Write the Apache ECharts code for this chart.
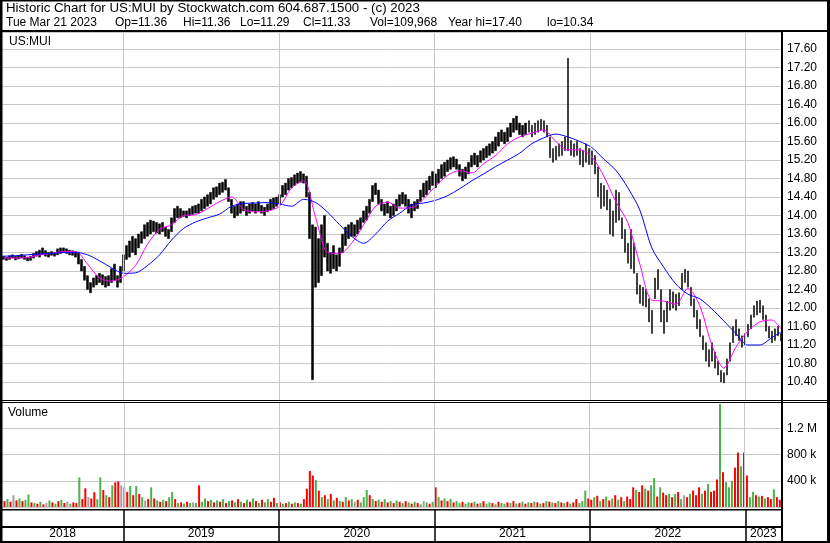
<!DOCTYPE html>
<html>
<head>
<meta charset="utf-8">
<title>Historic Chart for US:MUI</title>
<script src="https://cdn.jsdelivr.net/npm/echarts@6.0.0/dist/echarts.min.js"></script>
<style>
  html, body { margin: 0; padding: 0; background: #fff; }
  #main { width: 830px; height: 543px; }
</style>
</head>
<body>
<div id="main"></div>
<script>
// one bar per week (about 3px per week)
const firstDay = '2018-03-22'
const lastDay = '2023-03-25'
const stepDays = 7.047

const yearStarts = ['2019-01-01', '2020-01-01', '2021-01-01', '2022-01-01', '2023-01-01']
const yearLabels = ['2018', '2019', '2020', '2021', '2022', '2023']

const titleText = 'Historic Chart for US:MUI by Stockwatch.com 604.687.1500 - (c) 2023'
const quoteLine = ['Tue Mar 21 2023', 'Op=11.36', 'Hi=11.36', 'Lo=11.29', 'Cl=11.33', 'Vol=109,968', 'Year hi=17.40', 'lo=10.34']

const lows = [
  13.05, 13.03, 13.05, 13.08, 13.04, 13.06, 13.08, 13.05, 13.02, 13.03,
  13.08, 13.12, 13.10, 13.15, 13.12, 13.10, 13.14, 13.12, 13.15, 13.18,
  13.20, 13.18, 13.15, 13.14, 13.10, 12.95, 12.80, 12.60, 12.40, 12.33,
  12.45, 12.50, 12.55, 12.50, 12.45, 12.48, 12.55, 12.60, 12.45, 12.55,
  12.80, 13.05, 13.10, 13.20, 13.15, 13.30, 13.40, 13.50, 13.55, 13.60,
  13.65, 13.62, 13.60, 13.65, 13.55, 13.50, 13.65, 13.85, 13.95, 13.95,
  13.98, 13.95, 14.00, 14.02, 14.05, 14.05, 14.10, 14.15, 14.20, 14.25,
  14.35, 14.40, 14.45, 14.50, 14.55, 14.30, 14.05, 13.95, 14.00, 14.05,
  14.10, 14.00, 14.05, 14.10, 14.05, 14.10, 14.05, 14.00, 14.08, 14.12,
  14.15, 14.20, 14.25, 14.40, 14.45, 14.55, 14.60, 14.65, 14.70, 14.72,
  14.70, 14.40, 13.50, 10.45, 12.45, 12.55, 12.70, 13.10, 12.80, 12.75,
  12.85, 12.80, 12.90, 13.20, 13.35, 13.50, 13.55, 13.55, 13.60, 13.70,
  13.85, 13.90, 14.05, 14.30, 14.45, 14.25, 14.10, 14.00, 14.05, 13.95,
  14.00, 14.10, 14.20, 14.25, 14.20, 14.05, 13.95, 14.10, 14.15, 14.30,
  14.40, 14.45, 14.55, 14.65, 14.60, 14.70, 14.80, 14.85, 14.95, 15.00,
  15.05, 15.00, 14.85, 14.75, 14.80, 14.90, 15.05, 15.10, 15.05, 15.15,
  15.20, 15.25, 15.30, 15.35, 15.40, 15.50, 15.60, 15.55, 15.60, 15.70,
  15.80, 15.85, 15.75, 15.70, 15.75, 15.80, 15.70, 15.75, 15.80, 15.85,
  15.80, 15.70, 15.25, 15.15, 15.20, 15.28, 15.30, 15.40, 15.40, 15.30,
  15.27, 15.30, 15.10, 15.05, 15.15, 15.10, 15.10, 14.90, 14.40, 14.15,
  14.20, 14.12, 13.60, 13.55, 13.85, 13.90, 13.50, 13.20, 12.97, 12.85,
  12.75, 12.30, 12.10, 12.05, 12.02, 11.70, 11.45, 12.20, 12.40, 11.70,
  11.45, 11.70, 11.95, 12.00, 11.95, 12.05, 12.40, 12.55, 12.45, 12.05,
  11.80, 11.55, 11.38, 11.10, 10.85, 10.73, 10.85, 10.70, 10.55, 10.40,
  10.38, 10.55, 10.85, 11.25, 11.40, 11.30, 11.15, 11.20, 11.38, 11.55,
  11.80, 11.85, 11.90, 11.75, 11.50, 11.35, 11.25, 11.30, 11.40, 11.29
]

const highs = [
  13.12, 13.10, 13.13, 13.15, 13.12, 13.14, 13.16, 13.13, 13.10, 13.12,
  13.18, 13.22, 13.25, 13.30, 13.24, 13.20, 13.22, 13.20, 13.28, 13.30,
  13.30, 13.28, 13.25, 13.24, 13.22, 13.20, 13.05, 12.90, 12.70, 12.55,
  12.65, 12.70, 12.75, 12.72, 12.68, 12.70, 12.85, 12.95, 12.70, 12.90,
  13.15, 13.35, 13.45, 13.55, 13.50, 13.60, 13.65, 13.80, 13.85, 13.90,
  13.88, 13.85, 13.82, 13.85, 13.75, 13.70, 13.95, 14.15, 14.20, 14.15,
  14.10, 14.10, 14.15, 14.20, 14.22, 14.25, 14.35, 14.40, 14.45, 14.50,
  14.60, 14.62, 14.70, 14.72, 14.78, 14.60, 14.35, 14.20, 14.25, 14.30,
  14.30, 14.20, 14.25, 14.28, 14.25, 14.30, 14.22, 14.18, 14.25, 14.35,
  14.38, 14.40, 14.45, 14.65, 14.70, 14.80, 14.82, 14.88, 14.92, 14.95,
  14.90, 14.85, 14.50, 13.80, 13.75, 13.50, 13.80, 14.00, 13.40, 13.20,
  13.35, 13.15, 13.30, 13.60, 13.75, 13.80, 13.85, 13.80, 13.90, 13.95,
  14.10, 14.20, 14.35, 14.65, 14.70, 14.55, 14.35, 14.25, 14.30, 14.20,
  14.25, 14.35, 14.45, 14.50, 14.45, 14.35, 14.25, 14.30, 14.35, 14.55,
  14.70, 14.75, 14.85, 14.95, 14.90, 15.00, 15.10, 15.15, 15.20, 15.25,
  15.27, 15.22, 15.10, 15.00, 15.05, 15.15, 15.30, 15.35, 15.30, 15.40,
  15.45, 15.50, 15.55, 15.60, 15.70, 15.80, 15.85, 15.80, 15.90, 16.00,
  16.10, 16.15, 16.00, 15.95, 16.00, 16.05, 15.95, 16.00, 16.05, 16.08,
  16.05, 15.95, 15.70, 15.45, 15.50, 15.55, 15.60, 15.70, 17.40, 15.62,
  15.55, 15.60, 15.45, 15.40, 15.55, 15.45, 15.40, 15.30, 15.05, 14.70,
  14.65, 14.55, 14.35, 14.10, 14.55, 14.50, 13.95, 13.70, 13.40, 13.70,
  13.40, 12.75, 12.50, 12.45, 12.40, 12.20, 11.95, 12.65, 12.83, 12.40,
  11.95, 12.15, 12.40, 12.35, 12.30, 12.33, 12.75, 12.84, 12.80, 12.45,
  12.20, 11.95, 11.75, 11.40, 11.25, 11.10, 11.25, 11.05, 10.85, 10.65,
  10.60, 10.90, 11.25, 11.60, 11.75, 11.55, 11.40, 11.45, 11.65, 11.85,
  12.05, 12.15, 12.17, 12.05, 11.85, 11.60, 11.50, 11.55, 11.60, 11.45
]

// volume in thousands, one per weekly bar
const volumes = [
  90, 120, 80, 180, 100, 130, 90, 110, 190, 70,
  60, 50, 80, 40, 60, 100, 70, 50, 90, 110,
  60, 80, 50, 70, 60, 450, 120, 285, 150, 130,
  225, 120, 450, 260, 180, 150, 330, 375, 390, 330,
  300, 230, 320, 180, 320, 200, 150, 100, 120, 300,
  130, 100, 80, 110, 90, 150, 230, 120, 60, 70,
  50, 80, 60, 70, 60, 330, 80, 130, 90, 110,
  70, 100, 80, 120, 60, 90, 100, 70, 120, 80,
  60, 110, 80, 130, 90, 60, 110, 70, 120, 80,
  140, 60, 70, 50, 60, 80, 50, 70, 60, 50,
  120, 280, 550, 480, 410, 250, 150, 180, 120, 200,
  100, 140, 90, 80, 150, 100, 120, 80, 110, 70,
  150, 260, 180, 120, 90, 110, 80, 120, 70, 90,
  60, 100, 80, 60, 90, 70, 50, 80, 60, 40,
  90, 70, 50, 80, 300, 150, 100, 130, 90, 120,
  70, 90, 60, 80, 50, 70, 60, 80, 50, 60,
  90, 50, 70, 60, 40, 80, 60, 50, 70, 60,
  90, 50, 60, 80, 50, 70, 60, 80, 70, 50,
  60, 90, 80, 70, 60, 90, 70, 60, 80, 50,
  70, 120, 60, 90, 250, 130, 110, 150, 170, 90,
  120, 160, 100, 130, 180, 110, 150, 90, 160, 120,
  300, 260, 230, 330, 280, 250, 330, 440, 160, 300,
  220, 180, 200, 150, 200, 230, 120, 180, 150, 200,
  250, 180, 300, 200, 250, 350, 230, 250, 420, 1570,
  530, 380, 300, 400, 600, 830, 620, 830, 480, 150,
  230, 180, 160, 170, 130, 150, 120, 270, 150, 110
]

// r = down, g = up, n = unchanged
const volumeDir =
  'rgrnrgrggr' + 'grgrngrgrg' + 'rngrrgrrnr' + 'rggrgrgrrn' + 'grgrgrgnrg' +
  'rgrgrggrgr' + 'grgngrggrg' + 'rgrgrgrgrg' + 'rgrgrgrggr' + 'rgrgrgrgrg' +
  'rrrrgrgrgr' + 'grgrgrgnrg' + 'ggrgrgrgrg' + 'rgrgrgrgrg' + 'ngrgrgrgrg' +
  'rggrggrgrg' + 'rggrgrggrg' + 'rgrgrgrgrg' + 'rgrgrgrgrg' + 'rrgggrrgrg' +
  'rgrgrgrgrr' + 'rgrrgrggrg' + 'rrgrgrgnrg' + 'rrrgrgrrrg' + 'rgggrrgrrg' +
  'grgrgrrgrr'

// moving averages, read every 4th bar plus the last one
const maShort = [
  13.08, 13.08, 13.09, 13.15, 13.18, 13.22, 13.22, 12.95, 12.65, 12.58,
  12.68, 12.92, 13.38, 13.70, 13.80, 14.00, 14.02, 14.15, 14.30, 14.40,
  14.13, 14.08, 14.10, 14.20, 14.60, 14.75, 13.95, 13.20, 13.18, 13.40,
  13.80, 14.20, 14.29, 14.16, 14.17, 14.36, 14.64, 14.87, 14.97, 14.92,
  15.12, 15.30, 15.55, 15.70, 15.78, 15.85, 15.60, 15.42, 15.42, 15.27,
  14.85, 14.30, 13.85, 12.95, 12.17, 12.15, 12.08, 12.42, 12.05, 11.20,
  10.70, 11.15, 11.50, 11.70, 11.74, 11.55
]
const maLong = [
  13.12, 13.13, 13.15, 13.17, 13.18, 13.20, 13.20, 13.15, 13.02, 12.87,
  12.75, 12.76, 12.92, 13.15, 13.47, 13.72, 13.86, 13.95, 14.03, 14.20,
  14.26, 14.27, 14.28, 14.25, 14.20, 14.35, 14.28, 14.07, 13.80, 13.55,
  13.40, 13.60, 13.88, 14.05, 14.23, 14.27, 14.33, 14.43, 14.58, 14.75,
  14.90, 15.06, 15.20, 15.35, 15.55, 15.68, 15.76, 15.70, 15.60, 15.47,
  15.22, 14.98, 14.60, 14.12, 13.30, 12.88, 12.52, 12.30, 12.20, 11.98,
  11.72, 11.45, 11.20, 11.20, 11.36, 11.48
]

const DAY = 86400000
const t0 = new Date(firstDay + 'T00:00:00').getTime()
const tEnd = new Date(lastDay + 'T00:00:00').getTime()
const dayOf = s => new Date(s + 'T00:00:00').getTime()
const barTime = i => t0 + (i + 0.5) * stepDays * DAY

const volColors = { r: '#ff0000', g: '#4cb24c', n: '#a0a0a0' }
const font = '"Liberation Sans", Arial, sans-serif'

let bars = lows.map((lo, i) => [barTime(i), lo, highs[i], lo, highs[i]])
let volData = volumes.map((v, i) => ({
  value: [barTime(i), v],
  itemStyle: { color: volColors[volumeDir[i]] }
}))
let maIndex = maShort.map((v, k) => (k < maShort.length - 1 ? k * 4 : lows.length - 1))
let shortLine = maShort.map((v, k) => [barTime(maIndex[k]), v])
let longLine = maLong.map((v, k) => [barTime(maIndex[k]), v])

let yearLines = yearStarts.map(d => ({ xAxis: dayOf(d) }))
let yearBounds = [firstDay].concat(yearStarts).concat([lastDay])
let yearAreas = yearLabels.map((name, i) => [
  { name: name, xAxis: dayOf(yearBounds[i]) },
  { xAxis: dayOf(yearBounds[i + 1]) }
])

let gridLine = { color: '#c8c8c8', width: 1 }
let timeAxis = idx => ({ type: 'time', gridIndex: idx, min: t0, max: tEnd, show: false })

// frame and header, drawn over the grids
let frame = [
  [0, 0, 830, 1.5], [0, 0, 2.5, 543], [827, 0, 3, 543], [0, 541, 830, 2],
  [0, 30, 830, 2], [781, 30, 2, 513],
  [0, 400, 830, 1], [0, 402, 830, 1],
  [0, 509, 782, 1.5], [0, 526, 782, 2]
].map(r => ({
  type: 'rect', z: 100, silent: true,
  shape: { x: r[0], y: r[1], width: r[2], height: r[3] },
  style: { fill: '#000' }
}))
let quoteX = [6, 115, 183, 240, 303, 370, 448, 547]
let texts = [{ text: titleText, x: 6, y: 8, size: 13.3 }]
  .concat(quoteLine.map((t, i) => ({ text: t, x: quoteX[i], y: 23, size: 12 })))
  .concat([{ text: 'US:MUI', x: 9, y: 42, size: 12 }, { text: 'Volume', x: 8, y: 413, size: 12 }])
  .map(t => ({
    type: 'text', z: 101, silent: true, x: t.x, y: t.y,
    style: { text: t.text, fill: '#000', font: t.size + 'px ' + font, verticalAlign: 'middle' }
  }))

let options = {
  animation: false,
  backgroundColor: '#fff',
  grid: [
    { left: 2, top: 32, width: 779, height: 368.5 },
    { left: 2, top: 402, width: 779, height: 105 },
    { left: 2, top: 510, width: 779, height: 31 }
  ],
  xAxis: [timeAxis(0), timeAxis(1), timeAxis(2)],
  yAxis: [
    {
      type: 'value', gridIndex: 0, position: 'right', min: 10, max: 17.968, interval: 0.4,
      axisLine: { show: false }, axisTick: { show: false },
      axisLabel: {
        color: '#000', fontFamily: font, fontSize: 12, margin: 6,
        showMinLabel: false, showMaxLabel: false,
        formatter: v => v.toFixed(2)
      },
      splitLine: { lineStyle: gridLine }
    },
    {
      type: 'value', gridIndex: 1, position: 'right', min: 0, max: 1600, interval: 400,
      axisLine: { show: false }, axisTick: { show: false },
      axisLabel: {
        color: '#000', fontFamily: font, fontSize: 12, margin: 6,
        formatter: v => (v === 400 ? '400 k' : v === 800 ? '800 k' : v === 1200 ? '1.2 M' : '')
      },
      splitLine: { lineStyle: gridLine }
    },
    { type: 'value', gridIndex: 2, min: 0, max: 1, show: false }
  ],
  series: [
    {
      name: 'US:MUI', type: 'candlestick', xAxisIndex: 0, yAxisIndex: 0,
      encode: { x: 0, y: [1, 2, 3, 4] },
      barWidth: 2,
      itemStyle: { color: '#000', color0: '#000', borderColor: '#000', borderColor0: '#000', borderWidth: 0.5 },
      data: bars,
      markLine: {
        silent: true, symbol: 'none', label: { show: false },
        lineStyle: { color: '#c8c8c8', type: 'solid', width: 1 },
        data: yearLines
      }
    },
    {
      name: 'MA short', type: 'line', xAxisIndex: 0, yAxisIndex: 0,
      showSymbol: false, smooth: 0.3,
      lineStyle: { color: '#ff00ff', width: 1 },
      data: shortLine
    },
    {
      name: 'MA long', type: 'line', xAxisIndex: 0, yAxisIndex: 0,
      showSymbol: false, smooth: 0.3,
      lineStyle: { color: '#0000ff', width: 1 },
      data: longLine
    },
    {
      name: 'Volume', type: 'bar', xAxisIndex: 1, yAxisIndex: 1,
      barWidth: 2,
      data: volData,
      markLine: {
        silent: true, symbol: 'none', label: { show: false },
        lineStyle: { color: '#c8c8c8', type: 'solid', width: 1 },
        data: yearLines
      }
    },
    {
      name: 'years', type: 'line', xAxisIndex: 2, yAxisIndex: 2,
      data: [],
      markLine: {
        silent: true, symbol: 'none', label: { show: false },
        lineStyle: { color: '#000', type: 'solid', width: 1.5 },
        data: yearLines
      },
      markArea: {
        silent: true,
        itemStyle: { color: 'rgba(0,0,0,0)' },
        label: {
          show: true, position: 'insideBottom', distance: 1,
          color: '#000', fontFamily: font, fontSize: 12
        },
        data: yearAreas
      }
    }
  ],
  graphic: frame.concat(texts)
}

let myChart = echarts.init(document.getElementById('main'))
myChart.setOption(options)
</script>
</body>
</html>
